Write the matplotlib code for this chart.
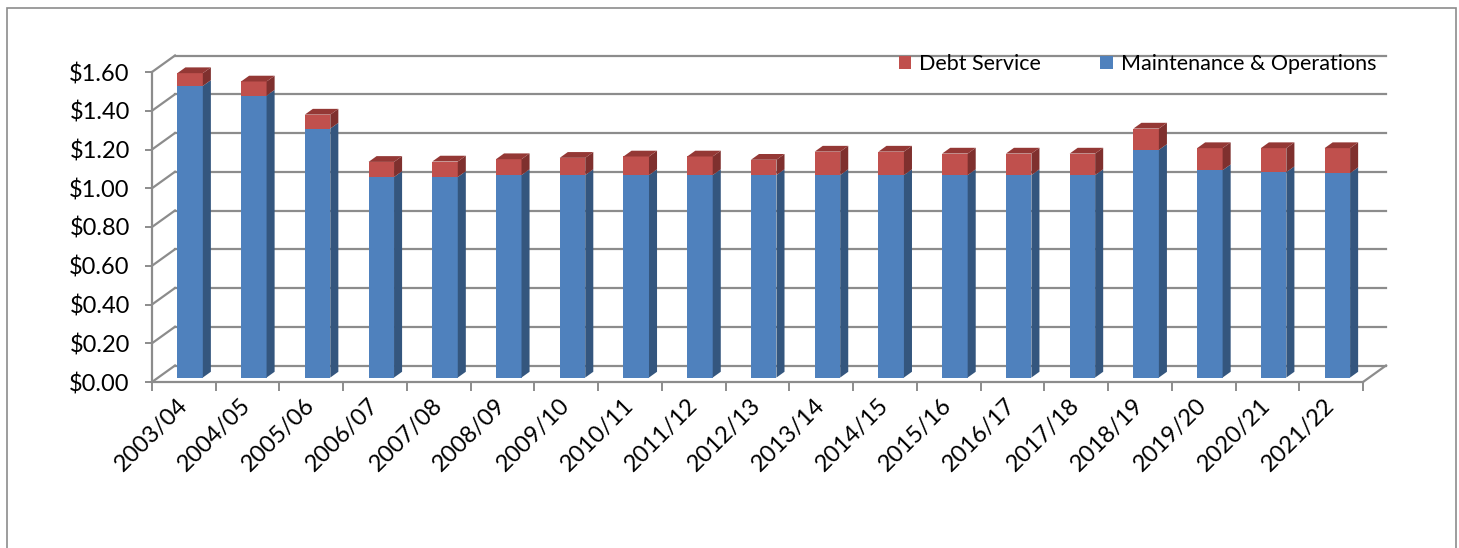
import matplotlib
matplotlib.use("Agg")
import matplotlib.pyplot as plt
from matplotlib.patches import Polygon, Rectangle
from matplotlib.lines import Line2D
from matplotlib.transforms import ScaledTranslation, IdentityTransform

# Tax rate per $100 valuation, by school year
years = ["2003/04", "2004/05", "2005/06", "2006/07", "2007/08", "2008/09",
         "2009/10", "2010/11", "2011/12", "2012/13", "2013/14", "2014/15",
         "2015/16", "2016/17", "2017/18", "2018/19", "2019/20", "2020/21",
         "2021/22"]
maint_ops = [1.505, 1.455, 1.285, 1.035, 1.035, 1.045, 1.045, 1.045, 1.045,
             1.045, 1.045, 1.045, 1.045, 1.045, 1.045, 1.175, 1.070, 1.060,
             1.055]
debt_service = [0.066, 0.073, 0.072, 0.078, 0.080, 0.082, 0.089, 0.096,
                0.096, 0.079, 0.121, 0.121, 0.111, 0.111, 0.111, 0.110,
                0.114, 0.124, 0.129]
y_ticks = [0.0, 0.2, 0.4, 0.6, 0.8, 1.0, 1.2, 1.4, 1.6]
y_labels = ["$0.00", "$0.20", "$0.40", "$0.60", "$0.80", "$1.00", "$1.20",
            "$1.40", "$1.60"]

plt.rcParams["font.family"] = ["Lato", "DejaVu Sans"]

W, H, DPI = 1459, 548, 100
fig = plt.figure(figsize=(W / DPI, H / DPI), dpi=DPI)

# front plane of the plot box, in pixels from the top-left corner
fx0, fx1, fyb, fyt = 152, 1363, 382, 72
ax = fig.add_axes([fx0 / W, 1 - fyb / H, (fx1 - fx0) / W, (fyb - fyt) / H])
n = len(years)
ax.set_xlim(0, n)
ax.set_ylim(0, 1.6)
ax.patch.set_visible(False)

GRID = "#8c8c8c"
BLUE, BLUE_SIDE = "#4f81bd", "#34567e"
RED, RED_SIDE, RED_TOP = "#c0504d", "#7f302e", "#943835"

DX, DY = 23.0, 16.5      # depth of the floor, in pixels
D0, D1 = 0.27, 0.62      # depth span occupied by the bars
BAR_W = 0.40
FS = 17


def px(x, y, d):
    X, Y = ax.transData.transform((x, y))
    return (X + d * DX, Y + d * DY)


def line(p, q, **kw):
    ax.add_line(Line2D([p[0], q[0]], [p[1], q[1]], transform=IdentityTransform(),
                       clip_on=False, color=GRID, lw=1.6, zorder=1, **kw))


def face(pts, color, z=3):
    ax.add_patch(Polygon(pts, closed=True, facecolor=color, edgecolor="none",
                         transform=IdentityTransform(), clip_on=False, zorder=z))


# back wall gridlines and side wall diagonals
for v in y_ticks:
    line(px(0, v, 1), px(n, v, 1))
    line(px(0, v, 0), px(0, v, 1))
# right edge of the floor
line(px(n, 0, 0), px(n, 0, 1))

# front axes
for s in ("top", "right"):
    ax.spines[s].set_visible(False)
for s in ("left", "bottom"):
    ax.spines[s].set_color(GRID)
    ax.spines[s].set_linewidth(1.6)

ax.set_yticks(y_ticks)
ax.set_yticklabels(y_labels)
ax.tick_params(axis="y", length=5, width=1.4, color=GRID, pad=11,
               labelsize=FS)

centers = [i + 0.5 for i in range(n)]
ax.set_xticks(centers)
ax.set_xticklabels(years, rotation=45, ha="right", va="center",
                   rotation_mode="anchor")
ax.set_xticks(list(range(n + 1)), minor=True)
ax.tick_params(axis="x", which="major", length=0, pad=14.5, labelsize=FS)
ax.tick_params(axis="x", which="minor", length=6.5, width=1.4, color=GRID)

# front faces of the stacked columns
off = ScaledTranslation(D0 * DX / DPI, D0 * DY / DPI, fig.dpi_scale_trans)
ax.bar(centers, maint_ops, width=BAR_W, color=BLUE, zorder=3,
       transform=ax.transData + off, label="Maintenance & Operations")
ax.bar(centers, debt_service, width=BAR_W, bottom=maint_ops, color=RED,
       zorder=3, transform=ax.transData + off, label="Debt Service")

# side and top faces
for c, mo, ds in zip(centers, maint_ops, debt_service):
    xr, xl = c + BAR_W / 2, c - BAR_W / 2
    top = mo + ds
    face([px(xr, 0, D0), px(xr, 0, D1), px(xr, mo, D1), px(xr, mo, D0)], BLUE_SIDE)
    face([px(xr, mo, D0), px(xr, mo, D1), px(xr, top, D1), px(xr, top, D0)], RED_SIDE)
    face([px(xl, top, D0), px(xr, top, D0), px(xr, top, D1), px(xl, top, D1)], RED_TOP)

handles = [Rectangle((0, 0), 1, 1, facecolor=RED),
           Rectangle((0, 0), 1, 1, facecolor=BLUE)]
fig.legend(handles, ["Debt Service", "Maintenance & Operations"], ncol=2,
           loc="upper right", bbox_to_anchor=(1376 / W, 1 - 54 / H),
           frameon=False, fontsize=15.5, handlelength=0.6, handleheight=0.6,
           handletextpad=0.35, columnspacing=2.75, borderpad=0, borderaxespad=0)

# chart area border
fig.add_artist(Rectangle((7 / W, -0.1), (1456 - 7) / W, 1 - 7.5 / H + 0.1,
                         fill=False, edgecolor=GRID, lw=1.2,
                         transform=fig.transFigure))

fig.savefig("out.png", dpi=DPI)
